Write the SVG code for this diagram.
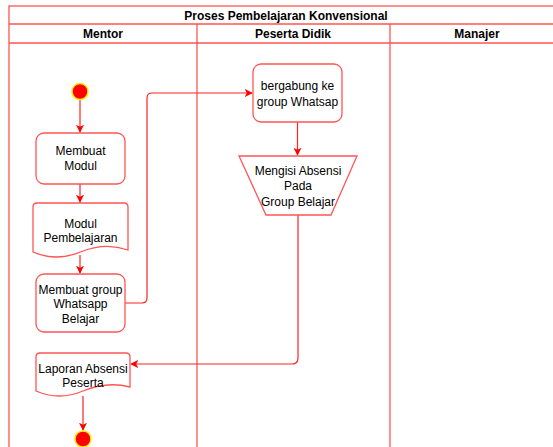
<svg xmlns="http://www.w3.org/2000/svg" width="553" height="447" viewBox="0 0 553 447">
<defs>
<style>
.lane{fill:none;stroke:#ff5555;stroke-width:1.3}
.node{fill:#ffffff;stroke:#ff5555;stroke-width:1.3}
.edge{fill:none;stroke:#ff2222;stroke-width:1.2}
.t{font-family:"Liberation Sans",Arial,sans-serif;font-size:12px;fill:#000;text-anchor:middle}
.h{font-family:"Liberation Sans",Arial,sans-serif;font-size:12px;font-weight:bold;fill:#000;text-anchor:middle}
.state{fill:#ff0000;stroke:#ffee00;stroke-width:1.5}
</style>
<marker id="arr" viewBox="0 0 10 10" refX="9" refY="5" markerWidth="8" markerHeight="8" markerUnits="userSpaceOnUse" orient="auto">
<path d="M0,0 L10,5 L0,10 L2.5,5 Z" fill="#ff0000"/>
</marker>
</defs>
<rect width="553" height="447" fill="#ffffff"/>
<g id="pool">
<rect class="lane" x="9" y="6" width="560" height="460"/>
<line class="lane" x1="9" y1="24" x2="569" y2="24"/>
<line class="lane" x1="9" y1="43" x2="569" y2="43"/>
<line class="lane" x1="197" y1="24" x2="197" y2="466"/>
<line class="lane" x1="390" y1="24" x2="390" y2="466"/>
<text class="h" x="286" y="19.5">Proses Pembelajaran Konvensional</text>
<text class="h" x="103" y="38">Mentor</text>
<text class="h" x="293" y="38">Peserta Didik</text>
<text class="h" x="477" y="38">Manajer</text>
</g>
<g id="connectors">
<line class="edge" x1="80" y1="100" x2="80" y2="132" marker-end="url(#arr)"/>
<line class="edge" x1="80" y1="184" x2="80" y2="202" marker-end="url(#arr)"/>
<line class="edge" x1="80" y1="255" x2="80" y2="273" marker-end="url(#arr)"/>
<path class="edge" d="M125,303 H142 Q147,303 147,298 V98 Q147,93 152,93 H252" marker-end="url(#arr)"/>
<line class="edge" x1="297.5" y1="122" x2="297.5" y2="155" marker-end="url(#arr)"/>
<path class="edge" d="M298,215 V358 Q298,364 292,364 H131" marker-end="url(#arr)"/>
<line class="edge" x1="83" y1="396" x2="83" y2="430" marker-end="url(#arr)"/>
</g>
<g id="start">
<circle class="state" cx="80" cy="91.5" r="8"/>
</g>
<g id="membuat-modul">
<rect class="node" x="36" y="133" width="89" height="51" rx="8"/>
<text class="t" x="80.5" y="155">Membuat</text>
<text class="t" x="80.5" y="170">Modul</text>
</g>
<g id="modul-pembelajaran">
<path class="node" d="M37,203 H124 Q128,203 128,207 V250 Q105,242 80.5,252 Q56,262 33,252 V207 Q33,203 37,203 Z"/>
<text class="t" x="80.5" y="227.5">Modul</text>
<text class="t" x="80.5" y="242">Pembelajaran</text>
</g>
<g id="membuat-group">
<rect class="node" x="36" y="274" width="89" height="58" rx="8"/>
<text class="t" x="80.5" y="293.5">Membuat group</text>
<text class="t" x="80.5" y="308">Whatsapp</text>
<text class="t" x="80.5" y="323">Belajar</text>
</g>
<g id="laporan-absensi">
<path class="node" d="M40,353 H126 Q130,353 130,357 V387 Q107,381 83,391 Q59,401 36,391 V357 Q36,353 40,353 Z"/>
<text class="t" x="83" y="372.5">Laporan Absensi</text>
<text class="t" x="83" y="387">Peserta</text>
</g>
<g id="end">
<circle class="state" cx="83" cy="439" r="8"/>
</g>
<g id="bergabung">
<rect class="node" x="253" y="64" width="89" height="58" rx="8"/>
<text class="t" x="297.5" y="90">bergabung ke</text>
<text class="t" x="297.5" y="105.5">group Whatsap</text>
</g>
<g id="mengisi-absensi">
<path class="node" d="M239,156 H357 L331,215 H266 Z"/>
<text class="t" x="298" y="175">Mengisi Absensi</text>
<text class="t" x="298" y="190">Pada</text>
<text class="t" x="298" y="206">Group Belajar</text>
</g>
</svg>
